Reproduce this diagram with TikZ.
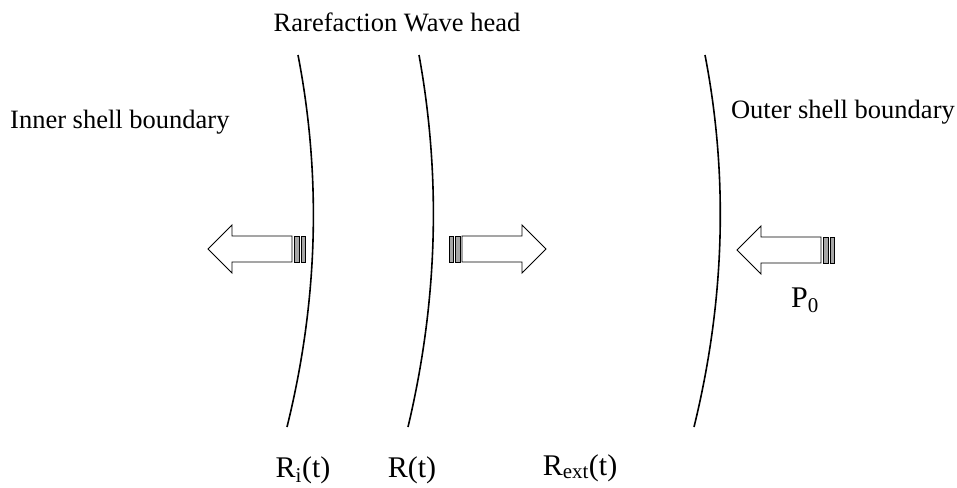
\documentclass[tikz,border=0pt]{standalone}
\usepackage{fontspec}
\setmainfont{Liberation Serif}
\tikzset{
  front/.style={line width=1.6pt},
  caption/.style={font=\fontsize{26.5}{30}\selectfont, inner sep=0pt},
  radius label/.style={font=\fontsize{30}{35}\selectfont, inner sep=0pt},
  stripe/.style={draw, fill=gray!70, line width=0.9pt},
  pics/stripedarrow/.style={code={
    \draw[line width=0.9pt] (0,0) -- (24,-24) -- (24,-13) -- (84,-13)
      -- (84,13) -- (24,13) -- (24,24) -- cycle;
    \draw[stripe] (86,-13) rectangle (91,13);
    \draw[stripe] (93,-13) rectangle (97,13);
  }}
}
\begin{document}
\begin{tikzpicture}[x=1pt, y=-1pt]
		\useasboundingbox (0,0) rectangle (957,487);
		% shell fronts
		\coordinate (Ri top) at (298,55);
		\coordinate (Ri bot) at (287,427);
		\coordinate (R top) at (419,55);
		\coordinate (R bot) at (408,427);
		\coordinate (Rext top) at (705,55);
		\coordinate (Rext bot) at (694,427);
		\draw[front] (Ri top) .. controls (321.7,177.7) and (318,301.7) .. (Ri bot);
		\draw[front] (R top) .. controls (441.3,177.7) and (437.7,301.7) .. (R bot);
		\draw[front] (Rext top) .. controls (728.7,177.7) and (724.7,301.7) .. (Rext bot);
		% pressure arrows
		\pic at (208,249) {stripedarrow};
		\pic[xscale=-1] at (546,249) {stripedarrow};
		\pic at (737,250) {stripedarrow};
		% texts
		\node[caption] (wave) at (397,22) {Rarefaction Wave head};
		\node[caption, anchor=west] (inner) at (10,122) {Inner shell boundary};
		\node[caption, anchor=east] (outer) at (955,112) {Outer shell boundary};
		\node[radius label] (Ri) at (303,470) {R\textsubscript{i}(t)};
		\node[radius label] (R) at (412,470) {R(t)};
		\node[radius label] (Rext) at (580,468) {R\textsubscript{ext}(t)};
		\node[radius label] (P0) at (805,300) {P\textsubscript{0}};
\end{tikzpicture}
\end{document}
